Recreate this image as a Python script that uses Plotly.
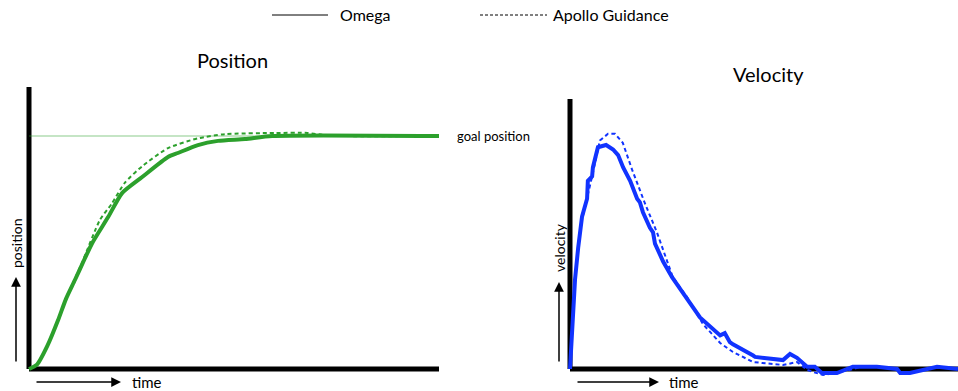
import plotly.graph_objects as go

# ---- data -------------------------------------------------------------
# Position response (time in arbitrary units, position as fraction of goal)
pos_omega_t = [0, 0.20, 0.45, 0.71, 0.90, 1.12, 1.35, 1.54, 1.93, 2.27, 2.76,
               3.39, 3.63, 4.12, 4.61, 5.27, 5.93, 10.0]
pos_omega_p = [0, 0.02, 0.10, 0.21, 0.30, 0.382, 0.47, 0.54, 0.652, 0.755, 0.824,
               0.91, 0.927, 0.961, 0.979, 0.987, 1.0, 1.0]

pos_apollo_t = [0, 0.20, 0.45, 0.71, 0.90, 1.29, 1.73, 2.02, 2.34, 2.76, 3.39,
                4.12, 4.78, 6.0, 6.8, 7.2, 7.6, 10.0]
pos_apollo_p = [0, 0.02, 0.10, 0.21, 0.30, 0.455, 0.64, 0.71, 0.80, 0.87, 0.948,
                0.99, 1.008, 1.013, 1.013, 1.004, 1.0, 1.0]

goal_t = [0, 10.0]
goal_p = [1.0, 1.0]

# Velocity response (normalised to the Omega peak)
vel_omega_t = [0, 0.13, 0.21, 0.26, 0.31, 0.44, 0.46, 0.57, 0.59, 0.72, 0.93, 1.11, 1.24,
               1.37, 1.55, 1.73, 1.80, 1.88, 2.06, 2.14, 2.19, 2.40, 2.63, 2.91, 3.35,
               3.87, 3.99, 4.12, 4.20, 4.72, 4.77, 5.49, 5.67, 5.85, 6.11, 6.31, 6.49,
               6.88, 7.29, 7.91, 8.43, 8.51, 8.76, 9.46, 10.0]
vel_omega_v = [0, 0.40, 0.54, 0.63, 0.68, 0.76, 0.84, 0.86, 0.90, 0.99, 1.00, 0.98, 0.955,
               0.90, 0.84, 0.76, 0.745, 0.70, 0.63, 0.61, 0.56, 0.48, 0.41, 0.34, 0.23,
               0.15, 0.16, 0.12, 0.11, 0.06, 0.054, 0.04, 0.067, 0.05, 0.01, 0.01, -0.018,
               -0.018, 0.01, 0.01, 0.0, -0.018, -0.018, 0.01, 0.0]

vel_apollo_t = [0, 0.13, 0.26, 0.44, 0.57, 0.77, 0.98, 1.16, 1.36, 1.60, 1.93, 2.24, 2.50,
                2.65, 3.02, 3.43, 3.87, 4.20, 4.72, 5.49, 5.85, 6.11, 6.52, 7.22, 7.5]
vel_apollo_v = [0, 0.40, 0.63, 0.76, 0.86, 1.02, 1.05, 1.05, 1.01, 0.89, 0.74, 0.61, 0.48,
                0.41, 0.32, 0.20, 0.116, 0.076, 0.031, 0.018, 0.031, -0.004, -0.027, -0.004, 0.01]

series_names = ["Omega", "Apollo Guidance"]
panel_titles = ["Position", "Velocity"]
axis_labels = ["position", "velocity"]
time_label = "time"
goal_label = "goal position"

GREEN = "#2ca02c"
BLUE = "#1133ff"
FONT = "Lato"

W, H = 958, 391


def px(x):
    return x / W


def py(y):
    return 1 - y / H


fig = go.Figure()

# goal reference line
fig.add_trace(go.Scatter(x=goal_t, y=goal_p, mode="lines", xaxis="x", yaxis="y",
                         line=dict(color="rgba(44,160,44,0.55)", width=1), showlegend=False))
fig.add_trace(go.Scatter(x=pos_apollo_t, y=pos_apollo_p, mode="lines", xaxis="x", yaxis="y",
                         line=dict(color=GREEN, width=2, dash="4px,3px", shape="spline",
                                   smoothing=0.6), showlegend=False))
fig.add_trace(go.Scatter(x=pos_omega_t, y=pos_omega_p, mode="lines", xaxis="x", yaxis="y",
                         line=dict(color=GREEN, width=4, shape="spline", smoothing=0.6),
                         showlegend=False))

fig.add_trace(go.Scatter(x=vel_apollo_t, y=vel_apollo_v, mode="lines", xaxis="x2", yaxis="y2",
                         line=dict(color=BLUE, width=2, dash="4px,3px"), showlegend=False))
fig.add_trace(go.Scatter(x=vel_omega_t, y=vel_omega_v, mode="lines", xaxis="x2", yaxis="y2",
                         line=dict(color=BLUE, width=4), showlegend=False))

hidden = dict(visible=False, showgrid=False, zeroline=False, fixedrange=True)

# left panel: t 0..10 -> px 29..439 ; p 0..1 -> px 369..136
fig.update_layout(
    xaxis=dict(domain=[px(20), px(445)], range=[-9 / 41, 10 + 6 / 41], **hidden),
    yaxis=dict(domain=[py(375), py(84)], range=[-6 / 233, (369 - 84) / 233], **hidden),
    # right panel: t 0..10 -> px 570..958 ; v 0..1 -> px 369..145
    xaxis2=dict(domain=[px(562), 1.0], range=[-8 / 38.8, 10], **hidden),
    yaxis2=dict(domain=[py(380), py(95)], range=[-11 / 224, (369 - 95) / 224], **hidden),
)

shapes = []
# axes drawn as thick black lines
shapes.append(dict(type="line", xref="x", yref="y", x0=0, x1=0, y0=0, y1=(369 - 87) / 233,
                   line=dict(color="black", width=5), layer="below"))
shapes.append(dict(type="line", xref="x", yref="y", x0=0, x1=10, y0=0, y1=0,
                   line=dict(color="black", width=5), layer="below"))
shapes.append(dict(type="line", xref="x2", yref="y2", x0=0, x1=0, y0=0, y1=(369 - 99) / 224,
                   line=dict(color="black", width=5), layer="below"))
shapes.append(dict(type="line", xref="x2", yref="y2", x0=0, x1=10, y0=0, y1=0,
                   line=dict(color="black", width=5), layer="below"))
# legend samples
shapes.append(dict(type="line", xref="paper", yref="paper", x0=px(272), x1=px(328),
                   y0=py(15), y1=py(15), line=dict(color="black", width=1)))
shapes.append(dict(type="line", xref="paper", yref="paper", x0=px(480), x1=px(547),
                   y0=py(15), y1=py(15), line=dict(color="black", width=1, dash="3px,2px")))

annotations = []


def text(x, y, s, size, xanchor="center", angle=0):
    annotations.append(dict(x=px(x), y=py(y), xref="paper", yref="paper", text=s,
                            showarrow=False, xanchor=xanchor, yanchor="middle",
                            textangle=angle, font=dict(family=FONT, size=size, color="black")))


def arrow(x_head, y_head, dx, dy):
    annotations.append(dict(x=px(x_head), y=py(y_head), xref="paper", yref="paper",
                            ax=dx, ay=dy, axref="pixel", ayref="pixel", text="",
                            showarrow=True, arrowhead=2, arrowsize=1.3, arrowwidth=1.5,
                            arrowcolor="black"))


text(338, 15, series_names[0], 16, xanchor="left")
text(551, 15, series_names[1], 16, xanchor="left")
text(232, 60, panel_titles[0], 20)
text(768, 74, panel_titles[1], 20)
text(455, 136, goal_label, 13, xanchor="left")
text(16, 243, axis_labels[0], 14, angle=-90)
text(559, 248, axis_labels[1], 14, angle=-90)
text(130, 382, time_label, 15, xanchor="left")
text(667, 382, time_label, 15, xanchor="left")

arrow(121, 382, -86, 0)
arrow(16, 277, 0, 86)
arrow(659, 382, -83, 0)
arrow(559, 282, 0, 81)

fig.update_layout(
    width=W, height=H,
    margin=dict(l=0, r=0, t=0, b=0),
    paper_bgcolor="white", plot_bgcolor="white",
    shapes=shapes, annotations=annotations,
    showlegend=False,
)

fig.write_html("out.html")
